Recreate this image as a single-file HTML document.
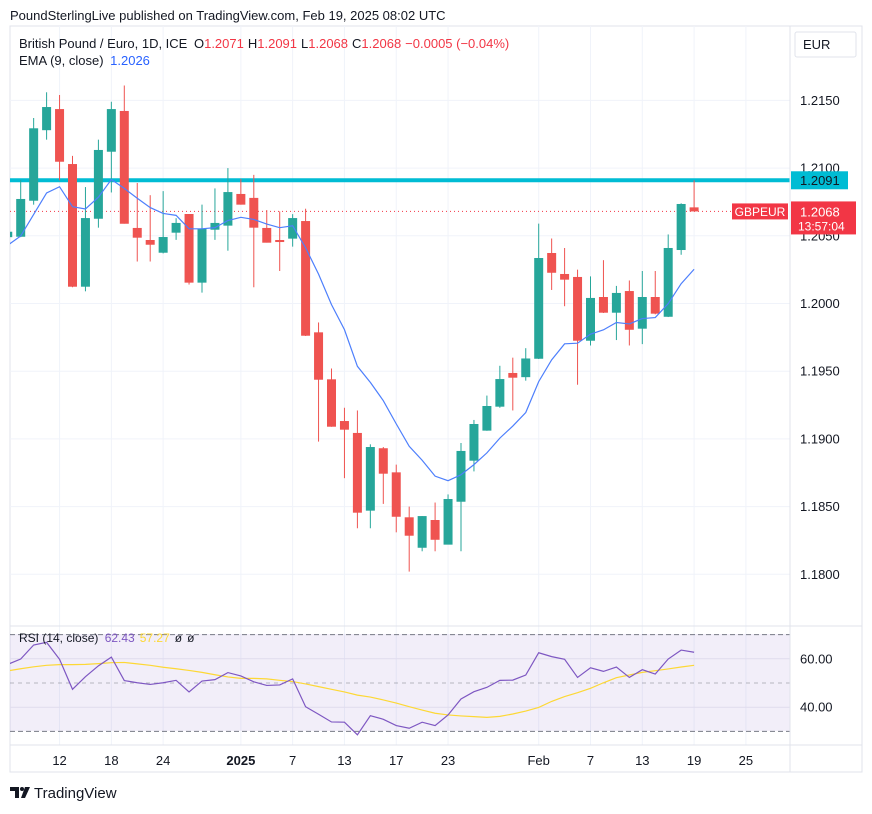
<!DOCTYPE html>
<html><head><meta charset="utf-8"><style>
body{margin:0;background:#fff;width:872px;height:809px;overflow:hidden;font-family:"Liberation Sans",sans-serif}
svg text{font-family:"Liberation Sans",sans-serif}
</style></head><body>
<svg id="c" width="872" height="809" xmlns="http://www.w3.org/2000/svg">
<rect x="0" y="0" width="872" height="809" fill="#fff"/>
<text x="10" y="20" font-size="13" fill="#131722">PoundSterlingLive published on TradingView.com, Feb 19, 2025 08:02 UTC</text>
<rect x="10" y="26" width="852" height="746" fill="none" stroke="#e0e3eb"/>
<g id="grid"></g>
<rect x="10" y="634" width="780" height="97" fill="#7e57c2" fill-opacity="0.1"/>
<g id="rsiLines"></g>
<g id="main" clip-path="url(#mc)"></g>
<defs><clipPath id="mc"><rect x="10" y="26" width="780" height="600"/></clipPath><clipPath id="rc"><rect x="10" y="626" width="780" height="119"/></clipPath></defs>
<g id="rsi" clip-path="url(#rc)"></g>
<line x1="10" y1="626" x2="862" y2="626" stroke="#e0e3eb"/>
<line x1="10" y1="745" x2="862" y2="745" stroke="#e0e3eb"/>
<line x1="790" y1="26" x2="790" y2="772" stroke="#e0e3eb"/>
<g id="axes"></g>
<rect x="795" y="32" width="61" height="25" rx="2" fill="#fff" stroke="#e0e3eb"/>
<text x="803" y="49" font-size="13" fill="#131722">EUR</text>
<text x="19" y="48" font-size="13" fill="#131722">British Pound / Euro, 1D, ICE <tspan dx="3">O</tspan><tspan fill="#f23645">1.2071</tspan><tspan dx="4">H</tspan><tspan fill="#f23645">1.2091</tspan><tspan dx="4">L</tspan><tspan fill="#f23645">1.2068</tspan><tspan dx="4">C</tspan><tspan fill="#f23645">1.2068</tspan><tspan dx="4" fill="#f23645">−0.0005 (−0.04%)</tspan></text>
<text x="19" y="65" font-size="13" fill="#131722">EMA (9, close) <tspan dx="3" fill="#2962ff">1.2026</tspan></text>
<text x="19" y="642" font-size="12" fill="#131722">RSI (14, close) <tspan dx="3" fill="#7e57c2">62.43</tspan><tspan dx="5" fill="#fdd835">57.27</tspan><tspan dx="5" fill="#131722">ø</tspan><tspan dx="5" fill="#131722">ø</tspan></text>
<g>
<path d="M10 787h9v11h-4v-7h-5z" fill="#131722"/>
<circle cx="22" cy="789" r="2" fill="#131722"/>
<path d="M25 787h5l-5 11h-4z" fill="#131722"/>
<text x="34" y="798" font-size="15" fill="#131722">TradingView</text>
</g>
</svg>
<script>
const opens=[1.2049,1.20493,1.20759,1.2128,1.21436,1.2103,1.20124,1.20626,1.21121,1.21422,1.20558,1.20469,1.20375,1.20523,1.20661,1.20154,1.20545,1.20575,1.20809,1.2078,1.20558,1.20469,1.20479,1.20609,1.19787,1.1944,1.19132,1.19044,1.1847,1.18931,1.18753,1.18421,1.18196,1.18401,1.18219,1.18536,1.18839,1.19061,1.19238,1.19487,1.19456,1.19592,1.20373,1.20218,1.20196,1.19725,1.20048,1.19932,1.20092,1.19814,1.20048,1.19902,1.20395,1.2071];
const highs=[1.2055,1.20912,1.2137,1.2156,1.2154,1.2109,1.2086,1.2121,1.2149,1.2161,1.2089,1.208,1.2083,1.2063,1.2066,1.2073,1.2085,1.21,1.2092,1.2095,1.2069,1.2068,1.2066,1.207,1.1986,1.1952,1.1923,1.1921,1.1896,1.1894,1.1881,1.185,1.1843,1.1853,1.1859,1.1897,1.1914,1.1932,1.1954,1.196,1.1967,1.2059,1.2048,1.2041,1.2025,1.202,1.2032,1.2013,1.2017,1.2024,1.2024,1.2051,1.2074,1.2091];
const lows=[1.2047,1.2049,1.2073,1.2121,1.2091,1.2012,1.2009,1.2056,1.2082,1.2059,1.2031,1.2031,1.2037,1.2047,1.2014,1.2008,1.2047,1.2039,1.2073,1.2012,1.2045,1.2024,1.2042,1.1976,1.1898,1.1909,1.1871,1.1834,1.1834,1.1852,1.1831,1.1802,1.1817,1.1817,1.1822,1.1817,1.1876,1.1906,1.1923,1.1921,1.1943,1.1959,1.201,1.1998,1.194,1.1969,1.1993,1.1973,1.1969,1.197,1.1992,1.199,1.2036,1.2068];
const closes=[1.2053,1.20772,1.21294,1.21451,1.21047,1.20124,1.20631,1.21134,1.21436,1.20589,1.20486,1.20434,1.20491,1.20595,1.20154,1.20552,1.20595,1.20823,1.2073,1.2056,1.20449,1.20454,1.20631,1.19762,1.19437,1.1909,1.19068,1.18455,1.1894,1.18743,1.18425,1.18285,1.1843,1.18255,1.18556,1.18911,1.1911,1.19243,1.19442,1.19452,1.19594,1.20336,1.20227,1.20176,1.19725,1.20041,1.19932,1.20078,1.19806,1.20048,1.19925,1.2041,1.20735,1.2068];
const rsiValues=[57.7,59.9,65.7,66.8,59.8,47.4,52.6,57.1,60.7,51.0,50.1,49.4,50.1,51.1,46.3,50.8,51.4,54.3,52.9,50.5,49.0,49.2,51.7,40.2,37.1,33.9,33.8,28.6,36.5,35.0,32.4,31.3,33.8,32.4,36.8,43.4,46.4,48.2,51.1,51.2,53.3,62.5,60.9,59.8,52.3,56.3,54.8,56.6,52.3,55.5,53.7,59.9,63.6,62.7];
const rsiMaValues=[55.0,55.9,56.7,57.3,57.6,57.6,57.7,58.0,58.4,58.5,57.9,57.3,56.5,55.9,55.2,54.4,53.4,52.5,51.9,51.9,51.7,51.1,50.6,49.6,48.5,47.4,46.3,45.0,44.2,43.0,41.7,40.2,38.8,37.5,36.8,36.4,36.1,35.8,36.2,37.2,38.4,39.9,42.4,44.4,46.0,47.8,50.1,52.2,53.3,54.4,55.1,55.8,56.6,57.3];
const priceTicks=[1.215,1.21,1.205,1.2,1.195,1.19,1.185,1.18];
const rsiTicks=[60,40];
const dateLabels=["12","18","24","2025","7","13","17","23","Feb","7","13","19","25"];
const dateIndex=[4,8,12,18,22,26,30,34,41,45,49,53,57];
const levelPrice=1.2091;
const lastPrice=1.2068;

const NS="http://www.w3.org/2000/svg";
const X=i=>7.75+i*12.95;
const Y=p=>303.5-(p-1.2)*13540;
const RY=v=>683-(v-50)*2.42;
function mk(t,a,parent){const e=document.createElementNS(NS,t);for(const k in a)e.setAttribute(k,a[k]);parent.appendChild(e);return e;}
const grid=document.getElementById('grid'),main=document.getElementById('main'),rsi=document.getElementById('rsi'),axes=document.getElementById('axes'),rl=document.getElementById('rsiLines');

priceTicks.forEach(p=>{
 const l=mk('line',{x1:10,x2:790,y1:Y(p),y2:Y(p),stroke:'#f0f3fa'},grid);
 
 
 const t=mk('text',{x:800,y:Y(p)+4.5,'font-size':13,fill:'#131722'},axes);t.textContent=p.toFixed(4);
 
 
});
dateLabels.forEach((d,k)=>{
 const x=X(dateIndex[k]);
 const l=mk('line',{x1:x,x2:x,y1:26,y2:745,stroke:'#f0f3fa'},grid);
 
 
 const t=mk('text',{x:x,y:765,'font-size':13,fill:'#131722','text-anchor':'middle','font-weight':d==='2025'?'bold':'normal'},axes);t.textContent=d;
 
 
});
rsiTicks.forEach(v=>{
 const l=mk('line',{x1:10,x2:790,y1:RY(v),y2:RY(v),stroke:'#e0dbee'},rl);
 
 
 const t=mk('text',{x:800,y:RY(v)+4.5,'font-size':13,fill:'#131722'},axes);t.textContent=v.toFixed(2);
 
 
});
[70,50,30].forEach(v=>{
 const l=mk('line',{x1:10,x2:790,y1:RY(v),y2:RY(v),stroke:'#787b86','stroke-dasharray':v===50?'4,4':'5,3','stroke-opacity':v===50?0.5:1},rl);
 
 
});

const lv=mk('line',{x1:10,x2:790,y1:Y(levelPrice),y2:Y(levelPrice),stroke:'#00bcd4','stroke-width':4},main);


const pl=mk('line',{x1:10,x2:790,y1:Y(lastPrice),y2:Y(lastPrice),stroke:'#f23645','stroke-dasharray':'1,3'},main);



closes.forEach((c,i)=>{
 const o=opens[i],x=X(i),up=c>=o,col=up?'#26a69a':'#ef5350';
 const w=mk('line',{x1:x,x2:x,y1:Y(highs[i]),y2:Y(lows[i]),stroke:col,'stroke-width':1},main);
 
 
 const top=Y(Math.max(o,c)),bot=Y(Math.min(o,c));
 const b=mk('rect',{x:x-4.5,y:top,width:9,height:Math.max(1,bot-top),fill:col},main);
 
 
});
let ema=1.2043,pts=[];
closes.forEach((c,i)=>{ if(i>0) ema=ema+(c-ema)*0.2; pts.push(X(i)+','+Y(ema)); });
const el=mk('polyline',{points:pts.join(' '),fill:'none',stroke:'#4d7ffc','stroke-width':1.2},main);



const rp=mk('polyline',{points:rsiMaValues.map((v,i)=>X(i)+','+RY(v)).join(' '),fill:'none',stroke:'#fdd835','stroke-width':1.2},rsi);


const rr=mk('polyline',{points:rsiValues.map((v,i)=>X(i)+','+RY(v)).join(' '),fill:'none',stroke:'#7e57c2','stroke-width':1.2},rsi);



const ly=Y(levelPrice);
const lb=mk('rect',{x:791,y:ly-9,width:57,height:18,fill:'#00bcd4'},axes);


const lt=mk('text',{x:800,y:ly+4.5,'font-size':13,fill:'#131722'},axes);lt.textContent=levelPrice.toFixed(4);


const py=Y(lastPrice);
const pb=mk('rect',{x:791,y:py-10,width:65,height:33,fill:'#f23645'},axes);


const pt=mk('text',{x:800,y:py+5,'font-size':13,fill:'#fff'},axes);pt.textContent=lastPrice.toFixed(4);


const ct=mk('text',{x:798,y:py+19,'font-size':12,fill:'#fff'},axes);ct.textContent='13:57:04';


const sb=mk('rect',{x:732,y:py-8,width:56,height:16,fill:'#f23645'},axes);


const st=mk('text',{x:760,y:py+4.5,'font-size':12,fill:'#fff','text-anchor':'middle'},axes);st.textContent='GBPEUR';


</script>
</body></html>
